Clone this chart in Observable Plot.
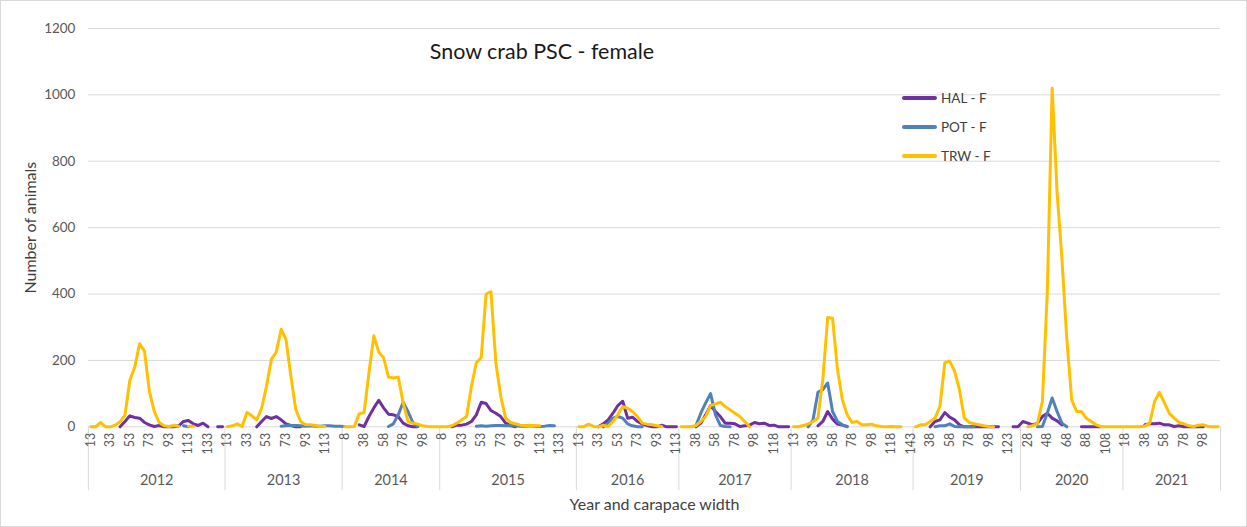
<!DOCTYPE html>
<html><head><meta charset="utf-8">
<script src="https://cdn.jsdelivr.net/npm/d3@7"></script>
<script src="https://cdn.jsdelivr.net/npm/@observablehq/plot@0.6"></script>
<style>
body{margin:0;background:#fff;}
#chart{position:relative;width:1247px;height:527px;box-sizing:border-box;border:1px solid #d9d9d9;font-family:Lato,"Open Sans",sans-serif;background:#fff;}
#chart svg{position:absolute;left:-1px;top:-1px;}
#legend{position:absolute;left:901px;top:87px;font-size:13.5px;color:#404040;white-space:nowrap;}
#legend .item{position:relative;height:29px;width:90px;}
#legend .sw{position:absolute;left:0;top:8px;width:35px;height:4px;border-radius:2px;}
#legend .lab{position:absolute;left:39px;top:0;line-height:20px;}
</style></head><body>
<div id="chart"><div id="legend"></div></div>
<script>
const years = [2012, 2013, 2014, 2015, 2016, 2017, 2018, 2019, 2020, 2021];
const widths = [
  [13,18,23,28,33,38,43,48,53,58,63,68,73,78,83,88,93,98,103,108,113,118,123,128,133,138,143,148],
  [13,18,23,28,33,38,43,48,53,58,63,68,73,78,83,88,93,98,103,108,113,118,123,128],
  [8,23,28,33,38,43,48,53,58,63,68,73,78,83,88,93,98,103,108,113],
  [8,18,23,28,33,38,43,48,53,58,63,68,73,78,83,88,93,98,103,108,113,118,123,128,133,138,143,148],
  [13,18,23,28,33,38,43,48,53,58,63,68,73,78,83,88,93,98,103,108,113],
  [23,28,33,38,43,48,53,58,63,68,73,78,83,88,93,98,103,108,113,118,123,128,133],
  [13,23,28,33,38,43,48,53,58,63,68,73,78,83,88,93,98,103,108,113,118,123,128,133,143],
  [23,28,33,38,43,48,53,58,63,68,73,78,83,88,93,98,103,108,113,123,128,133],
  [23,28,33,38,43,48,53,58,63,68,73,78,83,88,93,98,103,108,113,118,123],
  [18,23,28,33,38,43,48,53,58,63,68,73,78,83,88,93,98,103,108,113]
];
const _ = null;
const hal = [
  [_,_,_,_,_,_,0,16,33,28,26,13,6,1,4,0,0,0,3,16,19,9,4,11,0,_,0,0],
  [_,_,_,_,_,_,0,16,31,25,31,21,9,4,0,0,_,_,_,_,_,_,_,_],
  [_,_,_,6,1,31,57,80,57,38,36,31,11,3,0,0,_,_,_,_],
  [_,_,0,5,5,8,16,36,74,70,49,41,31,11,4,0,_,_,_,_,_,_,_,_,_,_,_,_],
  [_,_,_,_,0,9,21,41,64,77,26,29,16,9,4,0,0,5,0,0,0],
  [_,_,_,0,11,36,64,46,31,11,11,9,1,3,5,13,9,11,4,5,0,0,0],
  [_,_,_,_,_,3,16,46,23,8,5,1,_,_,_,_,_,_,_,_,_,_,_,_,_],
  [_,_,_,0,16,21,43,29,21,6,0,0,1,0,0,1,0,0,_,_,0,0],
  [16,11,6,11,31,41,26,18,6,_,_,_,0,0,0,0,0,_,_,_,_],
  [_,_,_,_,6,9,9,11,6,6,1,3,0,0,0,0,0,_,_,_]
];
const pot = [
  [_,_,_,_,_,_,_,_,_,_,_,_,_,_,_,_,_,_,_,3,0,_,_,_,_,_,_,_],
  [_,_,_,_,_,_,_,_,_,_,_,2,3,4,4,3,2,3,2,2,3,3,2,2],
  [1,_,_,_,_,_,_,_,_,1,9,36,74,46,13,1,_,_,_,_],
  [_,_,_,_,_,_,_,2,3,2,3,4,4,3,4,3,2,2,3,2,1,2,4,3,_,_,_,_],
  [_,_,_,_,_,0,11,26,31,26,9,3,0,0,_,_,_,_,_,_,_],
  [_,_,_,4,41,72,100,36,4,1,0,_,_,_,_,_,_,_,_,_,_,_,_],
  [_,_,_,0,21,104,112,132,46,16,6,0,_,_,_,_,_,_,_,_,_,_,_,_,_],
  [_,_,_,_,0,3,3,9,1,0,0,0,0,_,_,_,_,_,_,_,_,_],
  [_,_,_,0,1,41,87,46,11,0,_,_,_,_,_,_,_,_,_,_,_],
  [_,_,_,_,_,_,_,_,_,_,_,_,_,_,_,_,_,_,_,_]
];
const trw = [
  [0,0,13,0,0,5,15,35,140,180,250,228,107,47,13,3,1,4,2,_,2,2,_,_,_,_,_,_],
  [0,3,9,1,43,33,21,56,122,203,225,294,263,152,52,16,6,6,4,1,1,_,_,_],
  [0,0,1,39,43,163,274,225,208,150,147,150,72,16,11,8,3,1,0,0],
  [0,0,3,11,21,31,122,193,208,400,407,193,92,26,13,9,5,4,5,3,3,_,_,_,_,_,_,_],
  [0,0,8,1,0,5,1,16,36,61,56,46,31,11,8,6,3,1,_,_,_],
  [0,0,0,4,16,31,64,69,74,61,51,41,31,16,0,_,_,_,_,_,_,_,_],
  [0,0,4,9,16,26,142,329,327,173,82,36,13,16,6,6,8,3,1,0,1,0,0,_,_],
  [0,6,6,16,26,62,193,198,168,112,26,13,9,6,3,1,0,_,_,_,_,_],
  [_,0,3,11,77,405,1020,708,506,264,82,46,46,26,16,6,1,0,0,0,0],
  [0,0,0,0,2,11,77,104,72,41,26,13,9,3,1,5,6,1,0,0]
];
const seriesNames = ["HAL - F", "POT - F", "TRW - F"];
const seriesValues = [hal, pot, trw];
const seriesColors = ["#7030A0", "#4F81BD", "#FFC000"];
const yTicks = [0, 200, 400, 600, 800, 1000, 1200];

// build rows
const rows = [];
const starts = [];
let gi = 0;
years.forEach((yr, i) => {
  starts.push(gi);
  widths[i].forEach((w, j) => {
    rows.push({g: gi, year: yr, width: w, vals: seriesValues.map(s => s[i][j])});
    gi++;
  });
});
const total = gi;
const bounds = starts.concat([total]);
const yearRows = years.map((yr, i) => ({year: yr, mid: (bounds[i] + bounds[i + 1]) / 2}));
const tickRows = rows.filter(r => r.g % 4 === 0);

const lineMarks = seriesNames.map((name, k) =>
  Plot.line(rows, {
    x: r => r.g + 0.5,
    y: r => r.vals[k],
    stroke: seriesColors[k],
    strokeWidth: 3,
    strokeLinejoin: "round",
    strokeLinecap: "round"
  })
);

const chart = Plot.plot({
  width: 1247,
  height: 527,
  marginLeft: 88,
  marginRight: 25,
  marginTop: 28,
  marginBottom: 100,
  x: {domain: [0, total], axis: null},
  y: {domain: [0, 1200], axis: null},
  style: {fontFamily: "Lato, 'Open Sans', sans-serif", background: "transparent", overflow: "visible"},
  marks: [
    Plot.ruleY(yTicks, {stroke: "#d9d9d9", strokeWidth: 1}),
    Plot.text(yTicks, {y: d => d, text: d => String(d), frameAnchor: "left", textAnchor: "end", lineAnchor: "middle", dx: -13, fontSize: 13.5, fill: "#595959"}),
    Plot.ruleX(bounds, {x: d => d, y1: () => 0, y2: () => 0, insetBottom: -64, stroke: "#d9d9d9"}),
    Plot.text(tickRows, {x: r => r.g + 0.5, text: r => String(r.width), frameAnchor: "bottom", rotate: -90, textAnchor: "end", lineAnchor: "middle", dy: 6, fontSize: 12.5, fill: "#595959"}),
    Plot.text(yearRows, {x: "mid", text: d => String(d.year), frameAnchor: "bottom", textAnchor: "middle", lineAnchor: "middle", dy: 54, fontSize: 14.5, fill: "#595959"}),
    Plot.text(["Year and carapace width"], {frameAnchor: "bottom", text: d => d, textAnchor: "middle", lineAnchor: "middle", dy: 78, fontSize: 16, fill: "#404040"}),
    Plot.text(["Number of animals"], {frameAnchor: "left", text: d => d, textAnchor: "middle", lineAnchor: "middle", rotate: -90, dx: -58, fontSize: 16, fill: "#404040"}),
    Plot.text(["Snow crab PSC - female"], {frameAnchor: "top-left", text: d => d, textAnchor: "start", lineAnchor: "middle", dx: 342, dy: 24, fontSize: 21.5, fill: "#1a1a1a"}),
    ...lineMarks
  ]
});
const host = document.getElementById("chart");
host.insertBefore(chart, host.firstChild);

const legend = document.getElementById("legend");
seriesNames.forEach((name, k) => {
  const item = document.createElement("div");
  item.className = "item";
  const sw = document.createElement("div");
  sw.className = "sw";
  sw.style.background = seriesColors[k];
  const lab = document.createElement("div");
  lab.className = "lab";
  lab.textContent = name;
  item.appendChild(sw);
  item.appendChild(lab);
  legend.appendChild(item);
});
</script>
</body></html>
